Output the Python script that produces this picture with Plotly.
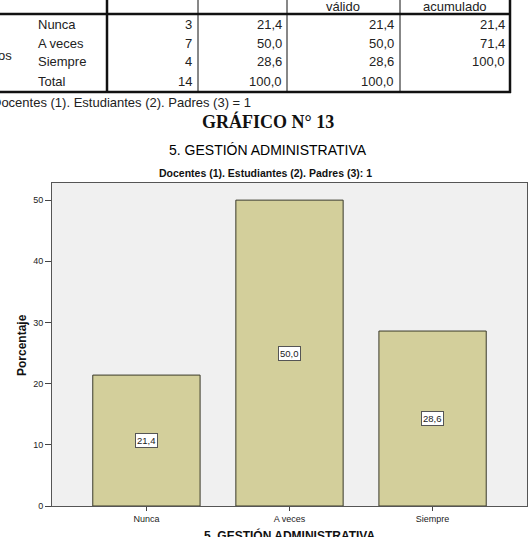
import plotly.graph_objects as go

# ---- data ----
categories = ["Nunca", "A veces", "Siempre"]
percent = [21.4, 50.0, 28.6]
table_rows = ["Nunca", "A veces", "Siempre", "Total"]
frecuencia = [3, 7, 4, 14]
porcentaje = [21.4, 50.0, 28.6, 100.0]
porc_valido = [21.4, 50.0, 28.6, 100.0]
porc_acum = [21.4, 71.4, 100.0, None]
y_ticks = [0, 10, 20, 30, 40, 50]

W, H = 532, 537
L, R, T, B = 52, 527, 183, 506


def px(x):
    return (x - L) / (R - L)


def py(y):
    return (B - y) / (B - T)


def fmt(v, d=1):
    return f"{v:.{d}f}".replace(".", ",")


fig = go.Figure()
fig.add_trace(go.Bar(
    x=categories, y=percent, width=0.75,
    marker=dict(color="#D3CF9B", line=dict(color="#3A3A2A", width=1)),
    hoverinfo="skip", showlegend=False,
))

ann = []
shapes = []
sans = "Liberation Sans, Arial, sans-serif"

# bar value labels (boxes in the middle of the bars)
for c, v in zip(categories, percent):
    ann.append(dict(x=c, y=v / 2, xref="x", yref="y", text=fmt(v), showarrow=False,
                    font=dict(family=sans, size=9.5, color="#222"),
                    bgcolor="white", bordercolor="#555", borderwidth=1, borderpad=1))

# ---- table at top ----
def hline(y, x0, x1, w):
    shapes.append(dict(type="line", xref="paper", yref="paper", x0=px(x0), x1=px(x1),
                       y0=py(y), y1=py(y), line=dict(color="#111", width=w)))


def vline(x, y0, y1, w):
    shapes.append(dict(type="line", xref="paper", yref="paper", x0=px(x), x1=px(x),
                       y0=py(y0), y1=py(y1), line=dict(color="#111", width=w)))


hline(14, -5, 511, 2.5)
hline(92, -5, 511, 2.5)
vline(107, -5, 93, 2.5)
vline(198, -5, 93, 1)
vline(287, -5, 93, 1)
vline(400, -5, 93, 1)
vline(510, -5, 93, 2.5)

tfont = dict(family=sans, size=13, color="#222")
ann.append(dict(x=px(343), y=py(7), xref="paper", yref="paper", text="válido",
                showarrow=False, font=tfont, xanchor="center", yanchor="middle"))
ann.append(dict(x=px(455), y=py(7), xref="paper", yref="paper", text="acumulado",
                showarrow=False, font=tfont, xanchor="center", yanchor="middle"))
ann.append(dict(x=px(14), y=py(55), xref="paper", yref="paper", text="Válidos",
                showarrow=False, font=tfont, xanchor="right", yanchor="middle"))

row_y = [24, 43, 62, 82]
col_right = [(frecuencia, 194, 0), (porcentaje, 284, 1), (porc_valido, 396, 1), (porc_acum, 507, 1)]
for i, (lab, yy) in enumerate(zip(table_rows, row_y)):
    ann.append(dict(x=px(36), y=py(yy), xref="paper", yref="paper", text=lab,
                    showarrow=False, font=tfont, xanchor="left", yanchor="middle"))
    for arr, xr, d in col_right:
        v = arr[i]
        if v is None:
            continue
        txt = str(v) if d == 0 else fmt(v, d)
        ann.append(dict(x=px(xr), y=py(yy), xref="paper", yref="paper", text=txt,
                        showarrow=False, font=tfont, xanchor="right", yanchor="middle"))

ann.append(dict(x=px(-10), y=py(102), xref="paper", yref="paper",
                text="Docentes (1). Estudiantes (2). Padres (3) = 1",
                showarrow=False, font=tfont, xanchor="left", yanchor="middle"))

# ---- titles ----
ann.append(dict(x=px(268), y=py(121), xref="paper", yref="paper", text="<b>GRÁFICO N° 13</b>",
                showarrow=False, font=dict(family="Liberation Serif, Times New Roman, serif", size=18, color="#111"),
                xanchor="center", yanchor="middle"))
ann.append(dict(x=px(268), y=py(150), xref="paper", yref="paper", text="5. GESTIÓN ADMINISTRATIVA",
                showarrow=False, font=dict(family=sans, size=14, color="#000"),
                xanchor="center", yanchor="middle"))
ann.append(dict(x=px(265), y=py(173), xref="paper", yref="paper",
                text="<b>Docentes (1). Estudiantes (2). Padres (3): 1</b>",
                showarrow=False, font=dict(family=sans, size=10.5, color="#111"),
                xanchor="center", yanchor="middle"))
ann.append(dict(x=px(22), y=py(345), xref="paper", yref="paper", text="<b>Porcentaje</b>",
                showarrow=False, font=dict(family=sans, size=12, color="#111"), textangle=-90,
                xanchor="center", yanchor="middle"))
ann.append(dict(x=px(289), y=py(535), xref="paper", yref="paper", text="<b>5. GESTIÓN ADMINISTRATIVA</b>",
                showarrow=False, font=dict(family=sans, size=12, color="#111"),
                xanchor="center", yanchor="middle"))

fig.update_layout(
    width=W, height=H,
    margin=dict(l=L, r=W - R, t=T, b=H - B, pad=0),
    paper_bgcolor="white", plot_bgcolor="#F0F0F0",
    annotations=ann, shapes=shapes, bargap=0.25,
)
fig.update_xaxes(range=[-0.66, 2.66], showline=True, linecolor="#555", linewidth=1, mirror=True,
                 ticks="outside", ticklen=4, tickcolor="#444", showgrid=False,
                 tickfont=dict(family=sans, size=9, color="#222"), fixedrange=True)
fig.update_yaxes(range=[0, 52.8], tickvals=y_ticks, showline=True, linecolor="#555", linewidth=1, mirror=True,
                 ticks="outside", ticklen=6, tickcolor="#444", showgrid=False, zeroline=False,
                 tickfont=dict(family=sans, size=9, color="#222"), fixedrange=True)

fig.write_html("out.html", config={"displayModeBar": False})
